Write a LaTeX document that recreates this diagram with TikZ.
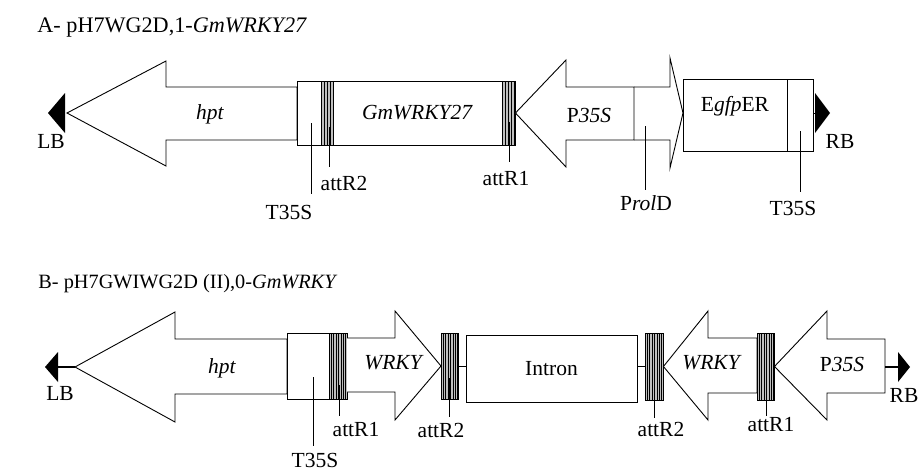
\documentclass[tikz,border=0pt]{standalone}
\usepackage{fontspec}
\setmainfont{Liberation Serif}
\usepackage{tikz}
\usetikzlibrary{positioning,calc}

\begin{document}
\begin{tikzpicture}[
    x=1pt, y=-1pt, line width=0.9pt,
    every node/.style={font=\fontsize{21.5}{25}\selectfont, inner sep=0pt},
    title/.style={anchor=base west, font=\fontsize{#1}{25}\selectfont},
    part/.style={draw, fill=white},
    att/.style={draw, fill=black!25,
                path picture={\foreach \k in {0,#1,...,30}
                  \draw[line width=0.7pt] ([xshift=\k pt]path picture bounding box.south west)
                    -- ([xshift=\k pt]path picture bounding box.north west);}},
    lead/.style={line width=0.7pt, shorten >=#1},
    lead/.default=6pt
  ]
    \useasboundingbox (0,0) rectangle (919,472);

    % A
    \node[title=22.2] (titleA) at (37,32) {A- pH7WG2D,1-\textit{GmWRKY27}};

    \coordinate (lbA) at (48,113);
    \fill (lbA) -- ++(17,-20) -- ++(0,40) -- cycle;
    \node (lbAl) at (51,141) {LB};

    \draw[part] (67,113) -- (166,61) -- (166,87) -- (297,87) -- (297,140) -- (166,140) -- (166,166) -- cycle;
    \node (hptA) at (210,114) {\textit{hpt}};

    \node[part, minimum width=24pt, minimum height=64pt] (t35sA) at (309,113) {};
    \node[att=3, minimum width=12pt, minimum height=64pt] (attR2A) at (327,113) {};
    \node[part, minimum width=169pt, minimum height=64pt] (gmA) at (417.5,113) {\textit{GmWRKY27}};
    \node[att=3, minimum width=13pt, minimum height=64pt] (attR1A) at (508.5,113) {};

    \draw[part] (634,87) -- (670,87) -- (670,58) -- (683,113) -- (670,168) -- (670,140) -- (634,140);
    \draw[part] (attR1A.east) -- (566,60) -- (566,87) -- (634,87) -- (634,140) -- (566,140) -- (566,167) -- cycle;
    \node (p35sA) at (589,115) {P\textit{35S}};

    \node[part, minimum width=104pt, minimum height=72pt] (egfpA) at (735,115) {};
    \node (egfpAl) at (735,106) {E\textit{gfp}ER};
    \node[part, minimum width=26pt, minimum height=72pt] (t35sA2) at (800,115) {};

    \coordinate (rbA) at (830,113);
    \draw (t35sA2.east |- rbA) -- ([xshift=-15pt]rbA);
    \fill (rbA) -- ++(-15,-20) -- ++(0,40) -- cycle;
    \node (rbAl) at (840,141) {RB};

    \coordinate (pT35SA) at (311,123);
    \node (lT35SA) at (289,212) {T35S};
    \draw[lead=10pt] (pT35SA) -- (pT35SA |- lT35SA.north);
    \coordinate (pattR2A) at (329,127);
    \node (lattR2A) at (344,183) {attR2};
    \draw[lead=8pt] (pattR2A) -- (pattR2A |- lattR2A.north);
    \coordinate (pattR1A) at (509,122);
    \node (lattR1A) at (506,179) {attR1};
    \draw[lead=9pt] (pattR1A) -- (pattR1A |- lattR1A.north);
    \coordinate (pProlD) at (645,126);
    \node (lProlD) at (646,203) {P\textit{rol}D};
    \draw[lead=5pt] (pProlD) -- (pProlD |- lProlD.north);
    \coordinate (pT35SA2) at (800,131);
    \node (lT35SA2) at (793,208) {T35S};
    \draw[lead=8pt] (pT35SA2) -- (pT35SA2 |- lT35SA2.north);

    % B
    \node[title=20.3] (titleB) at (38,288) {B- pH7GWIWG2D (II),0-\textit{GmWRKY}};

    \coordinate (lbB) at (45,367);
    \fill (lbB) -- ++(13,-15) -- ++(0,30) -- cycle;
    \draw[line width=1.4pt] ([xshift=13pt]lbB) -- (75,367);
    \node (lbBl) at (60,393) {LB};

    \draw[part] (75,367) -- (175,312) -- (175,339) -- (287,339) -- (287,394) -- (175,394) -- (175,422) -- cycle;
    \node (hptB) at (222,368) {\textit{hpt}};

    \node[part, minimum width=42pt, minimum height=66pt] (t35sB) at (308,366) {};
    \node[att=2.4, minimum width=18pt, minimum height=66pt] (attR1B) at (338,366) {};
    \draw[part] (347,338) -- (395,338) -- (395,311) -- (441,366) -- (395,420) -- (395,392) -- (347,392);
    \node (wrkyB) at (394,363) {\textit{WRKY}};

    \node[att=2.4, minimum width=17pt, minimum height=66pt] (attR2B) at (449.5,366) {};
    \node[part, minimum width=171pt, minimum height=67pt] (intronB) at (551.5,368.5) {Intron};
    \draw (attR2B.east) -- (intronB.west |- attR2B.east);
    \node[att=2.4, minimum width=18pt, minimum height=67pt] (attR2B2) at (654,366.5) {};
    \draw (intronB.east |- attR2B2.west) -- (attR2B2.west);

    \draw[part] (attR2B2.east) -- (708,311) -- (708,338) -- (757,338) -- (757,393) -- (708,393) -- (708,420) -- cycle;
    \node (wrkyB2) at (712,363) {\textit{WRKY}};
    \node[att=2.4, minimum width=17pt, minimum height=67pt] (attR1B2) at (765.5,366.5) {};
    \draw[part] (attR1B2.east) -- (827,311) -- (827,339) -- (885,339) -- (885,393) -- (827,393) -- (827,420) -- cycle;
    \node (p35sB) at (842,364) {P\textit{35S}};

    \coordinate (rbB) at (910,367);
    \draw[line width=1.6pt] (885,367) -- ([xshift=-12pt]rbB);
    \fill (rbB) -- ++(-12,-15) -- ++(0,30) -- cycle;
    \node (rbBl) at (904,395) {RB};

    \coordinate (pT35SB) at (313,377);
    \node (lT35SB) at (315,460) {T35S};
    \draw[lead=6pt] (pT35SB) -- (pT35SB |- lT35SB.north);
    \coordinate (pattR1B) at (339,385);
    \node (lattR1B) at (356,430) {attR1};
    \draw[lead=6pt] (pattR1B) -- (pattR1B |- lattR1B.north);
    \coordinate (pattR2B) at (449,378);
    \node (lattR2B) at (441,430) {attR2};
    \draw[lead=5pt] (pattR2B) -- (pattR2B |- lattR2B.north);
    \coordinate (pattR2B2) at (654,400);
    \node (lattR2B2) at (661,429) {attR2};
    \draw[lead=3pt] (pattR2B2) -- (pattR2B2 |- lattR2B2.north);
    \coordinate (pattR1B2) at (766,400);
    \node (lattR1B2) at (771,425) {attR1};
    \draw[lead=1pt] (pattR1B2) -- (pattR1B2 |- lattR1B2.north);
  \end{tikzpicture}
\end{document}
